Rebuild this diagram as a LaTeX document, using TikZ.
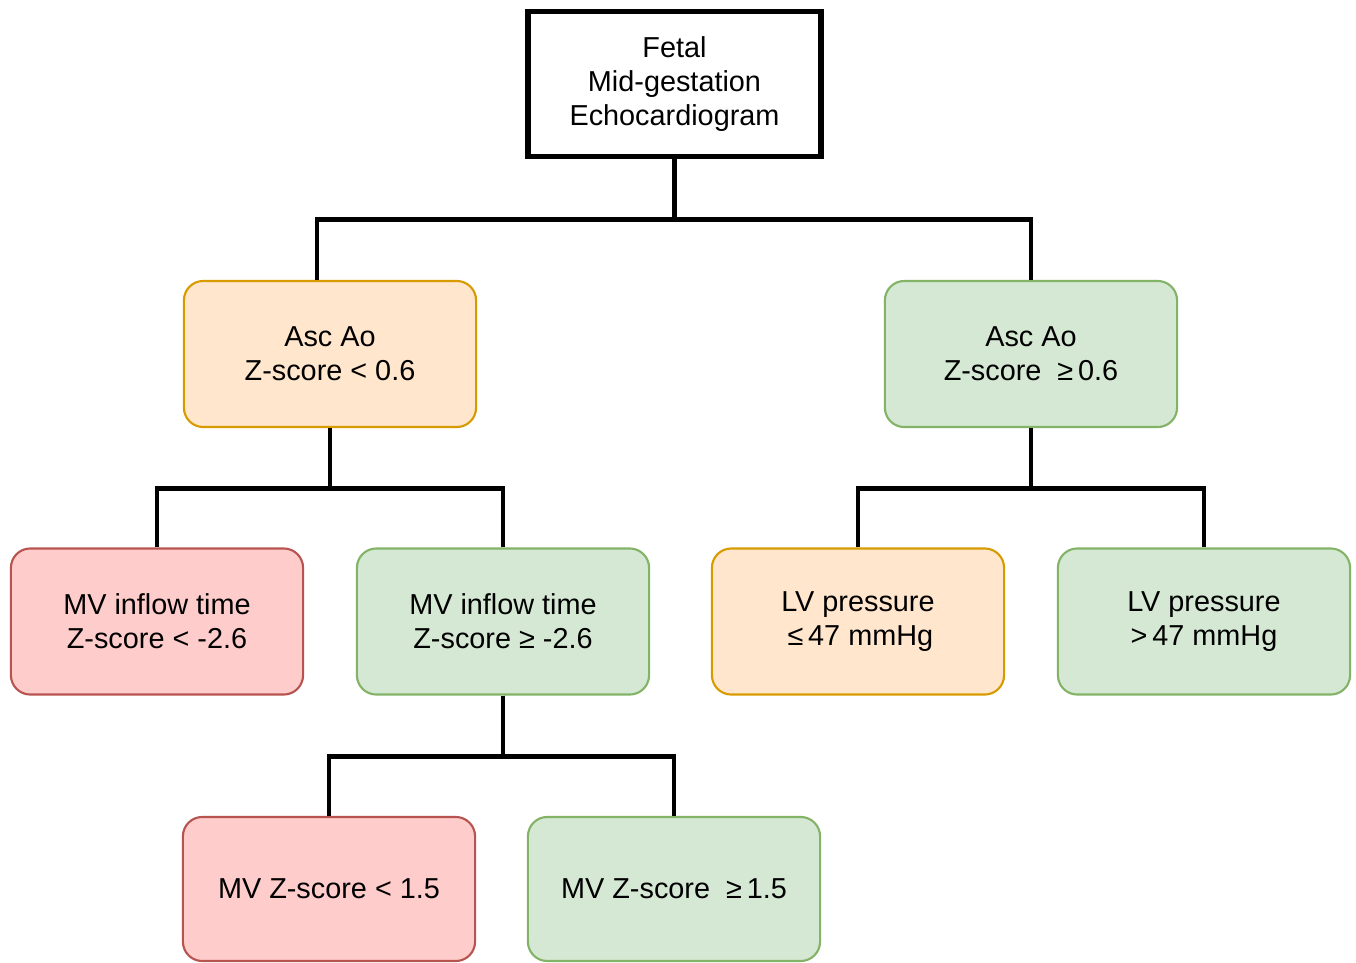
\documentclass[tikz,border=0pt]{standalone}
\usepackage{fontspec}
\setmainfont{Liberation Sans}
\usepackage{tikz}

\definecolor{orangefill}{HTML}{FFE6CC}
\definecolor{orangeline}{HTML}{D79B00}
\definecolor{greenfill}{HTML}{D5E8D4}
\definecolor{greenline}{HTML}{82B366}
\definecolor{redfill}{HTML}{FFCCCC}
\definecolor{redline}{HTML}{B85450}

\begin{document}
\begin{tikzpicture}[x=0.01cm,y=-0.01cm,
      box/.style={rectangle,rounded corners=5.5pt,line width=0.6pt,align=center,
        minimum width=2.92cm,minimum height=1.46cm,inner sep=0pt,
        font=\fontsize{8.2}{9.7}\selectfont},
      warn/.style={box,draw=orangeline,fill=orangefill},
      good/.style={box,draw=greenline,fill=greenfill},
      bad/.style={box,draw=redline,fill=redfill},
      link/.style={line width=1.4pt,black}]
			\useasboundingbox (0,0) rectangle (1356,963);
			% root
			\node[box,rounded corners=0pt,draw,line width=1.5pt,minimum width=2.93cm,minimum height=1.45cm] (echo) at (674.5,84) {Fetal\\Mid-gestation\\Echocardiogram};
			% first split
			\node[warn] (aolow) at (330,354) {Asc Ao\\Z-score < 0.6};
			\node[good] (aohigh) at (1031,354) {Asc Ao\\Z-score \ ≥\,0.6};
			% second split
			\node[bad] (mvilow) at (157,621.5) {MV inflow time\\Z-score < -2.6};
			\node[good] (mvihigh) at (503,621.5) {MV inflow time\\Z-score ≥ -2.6};
			\node[warn] (lvlow) at (858,621.5) {LV pressure\\ \,≤\,47 mmHg};
			\node[good] (lvhigh) at (1204,621.5) {LV pressure\\>\,47 mmHg};
			% third split
			\node[bad,minimum height=1.44cm] (mvlow) at (329,889) {MV Z-score < 1.5};
			\node[good,minimum height=1.44cm] (mvhigh) at (674,889) {MV Z-score \ ≥\,1.5};
			% connectors
			\draw[link] (echo.south) -- ++(0,-0.6cm) -| ([xshift=-0.13cm]aolow.north);
			\draw[link] (echo.south) -- ++(0,-0.6cm) -| (aohigh.north);
			\draw[link] (aolow.south) -- ++(0,-0.6cm) -| (mvilow.north);
			\draw[link] (aolow.south) -- ++(0,-0.6cm) -| (mvihigh.north);
			\draw[link] (aohigh.south) -- ++(0,-0.6cm) -| (lvlow.north);
			\draw[link] (aohigh.south) -- ++(0,-0.6cm) -| (lvhigh.north);
			\draw[link] (mvihigh.south) -- ++(0,-0.61cm) -| (mvlow.north);
			\draw[link] (mvihigh.south) -- ++(0,-0.61cm) -| (mvhigh.north);
		\end{tikzpicture}
\end{document}
